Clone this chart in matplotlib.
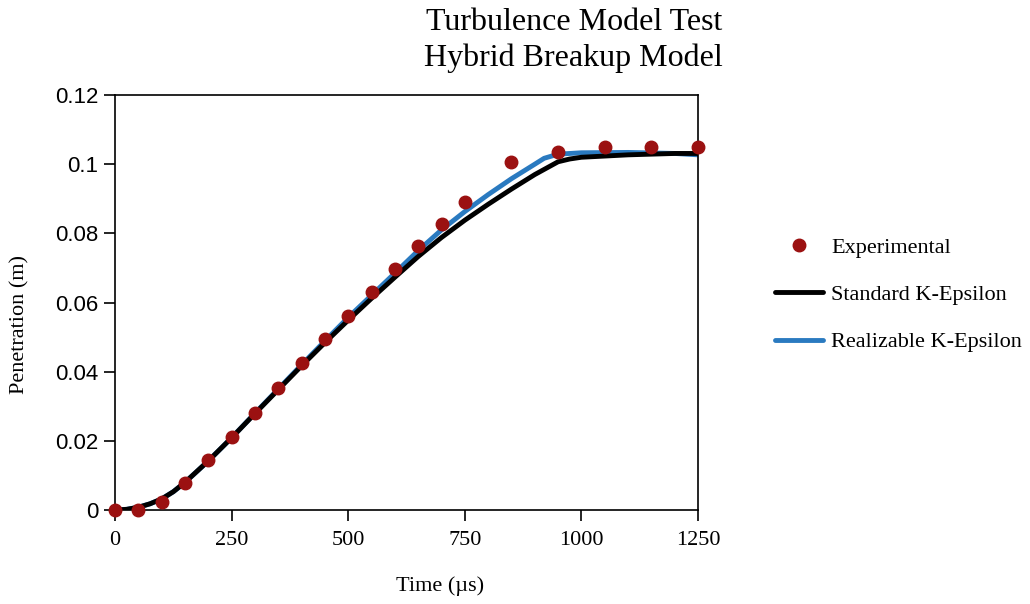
import matplotlib
matplotlib.use("Agg")
import matplotlib.pyplot as plt
from matplotlib.ticker import FuncFormatter

# experimental data
exp_time = [0, 50, 100, 150, 200, 250, 300, 350, 400, 450, 500, 550, 600,
            650, 700, 750, 850, 950, 1050, 1150, 1250]
exp_pen = [0.0, 0.0, 0.0023, 0.0079, 0.0145, 0.0211, 0.0281, 0.0352, 0.0424,
           0.0494, 0.0562, 0.0631, 0.0698, 0.0764, 0.0827, 0.0890, 0.1005,
           0.1036, 0.1051, 0.1051, 0.1051]

# standard k-epsilon
std_time = [0, 25, 50, 75, 100, 125, 150, 200, 250, 300, 350, 400, 450, 500,
            550, 600, 650, 700, 750, 800, 850, 900, 950, 975, 1000, 1100,
            1200, 1250]
std_pen = [0.0, 0.0002, 0.0008, 0.0018, 0.0032, 0.0053, 0.0080, 0.0142,
           0.0209, 0.0279, 0.0348, 0.0417, 0.0484, 0.0549, 0.0612, 0.0673,
           0.0733, 0.0788, 0.0838, 0.0884, 0.0928, 0.0970, 0.1007, 0.1015,
           0.1020, 0.1027, 0.1031, 0.1031]

# realizable k-epsilon
rea_time = [0, 25, 50, 75, 100, 125, 150, 200, 250, 300, 350, 400, 450, 500,
            550, 600, 650, 700, 750, 800, 850, 900, 920, 950, 1000, 1100,
            1200, 1250]
rea_pen = [0.0, 0.0002, 0.0008, 0.0018, 0.0032, 0.0053, 0.0080, 0.0142,
           0.0209, 0.0280, 0.0350, 0.0420, 0.0489, 0.0557, 0.0621, 0.0685,
           0.0750, 0.0810, 0.0863, 0.0912, 0.0958, 0.1000, 0.1017, 0.1029,
           0.1033, 0.1034, 0.1031, 0.1027]

serif = "Liberation Serif"
sans = "Liberation Sans"

fig = plt.figure(figsize=(10.3, 6.04), dpi=100)
ax = fig.add_axes([0.1117, 0.1556, 0.5660, 0.6871])

ax.plot(std_time, std_pen, color="black", linewidth=3.5, solid_capstyle="round",
        label="Standard K-Epsilon", zorder=2)
ax.plot(rea_time, rea_pen, color="#2a7ac0", linewidth=3.5, solid_capstyle="round",
        label="Realizable K-Epsilon", zorder=1)
ax.plot(exp_time, exp_pen, linestyle="none", marker="o", markersize=9,
        color="#9b1111", label="Experimental", zorder=3, clip_on=False)

ax.set_xlim(0, 1250)
ax.set_ylim(0, 0.12)
ax.set_xticks([0, 250, 500, 750, 1000, 1250])
ax.set_yticks([0, 0.02, 0.04, 0.06, 0.08, 0.1, 0.12])
ax.yaxis.set_major_formatter(FuncFormatter(lambda v, p: f"{v:g}"))
ax.tick_params(direction="out", length=8, width=1.2)
ax.tick_params(axis="x", pad=7)
ax.tick_params(axis="y", pad=4)
for lbl in ax.get_xticklabels():
    lbl.set_fontfamily(serif)
    lbl.set_fontsize(16)
for lbl in ax.get_yticklabels():
    lbl.set_fontfamily(sans)
    lbl.set_fontsize(16)
for sp in ax.spines.values():
    sp.set_linewidth(1.2)

ax.set_xlabel("Time (µs)", fontfamily=serif, fontsize=16)
ax.set_ylabel("Penetration (m)", fontfamily=serif, fontsize=16)
ax.xaxis.set_label_coords(0.5575, -0.159)
ax.yaxis.set_label_coords(-0.146, 0.448)

fig.text(0.557, 0.987, "Turbulence Model Test\nHybrid Breakup Model",
         ha="center", va="top", fontfamily=serif, fontsize=23, linespacing=1.3)

handles, labels = ax.get_legend_handles_labels()
order = [2, 0, 1]
leg = fig.legend([handles[i] for i in order], [labels[i] for i in order],
                 loc="center left", bbox_to_anchor=(0.7524, 0.5116), frameon=False,
                 prop={"family": serif, "size": 16}, handlelength=2.16,
                 labelspacing=1.2, handletextpad=0.36, borderpad=0,
                 borderaxespad=0)

fig.savefig("out.png", dpi=100)
